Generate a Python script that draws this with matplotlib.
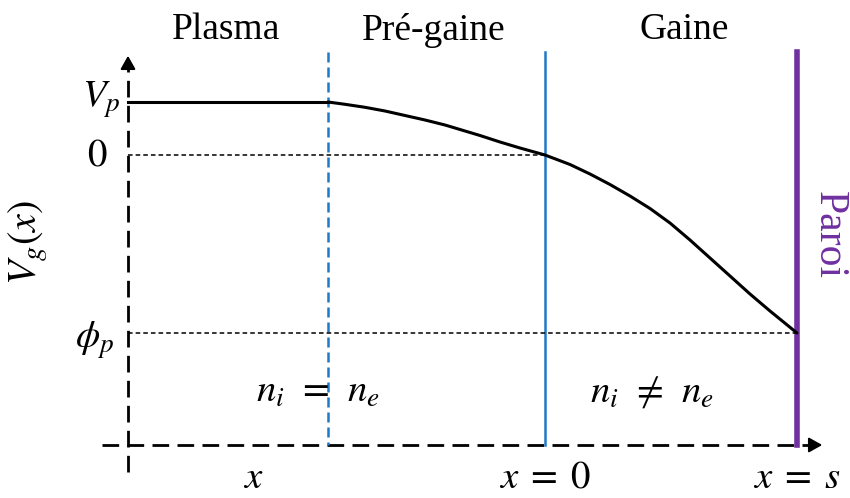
import matplotlib.pyplot as plt
import numpy as np

plt.rcParams['mathtext.fontset'] = 'stix'
plt.rcParams['font.family'] = ['Liberation Serif', 'DejaVu Serif']

# schematic coordinates (pixel-like units, y grows downwards)
x_axis = 128
y_axis = 445
y_top = 52
x_presheath = 328
x_sheath = 545
x_wall = 797

y_vp = 102
y_zero = 155
y_phi = 333

# potential profile
curve_x = [328, 345, 365, 385, 405, 425, 445, 460, 480, 500, 520, 545,
           570, 590, 610, 630, 650, 670, 690, 710, 730, 750, 770, 797]
curve_y = [102, 104.3, 107.3, 111, 115.5, 120, 125, 129.5, 135.5, 142, 148, 155,
           164.5, 174, 184.5, 196, 208.5, 223, 240, 258, 276, 294, 311, 333]

region_names = ['Plasma', 'Pré-gaine', 'Gaine']
region_x = [226, 434, 684]

blue = '#1f78c8'
purple = '#7030a0'

fig = plt.figure(figsize=(8.5, 4.98), dpi=100)
ax = fig.add_axes([0, 0, 1, 1])
ax.set_xlim(0, 850)
ax.set_ylim(498, 0)
ax.axis('off')

# axes (dashed, with arrows)
ax.plot([x_axis, x_axis], [472, 64], color='black', lw=2.0, dashes=(6, 3))
ax.plot([102, 812], [y_axis, y_axis], color='black', lw=2.0, dashes=(6, 3))
head = '-|>,head_length=0.8,head_width=0.45'
ax.annotate('', xy=(x_axis, 53), xytext=(x_axis, 68),
            arrowprops=dict(arrowstyle=head, color='black', lw=1.5))
ax.annotate('', xy=(825, y_axis), xytext=(808, y_axis),
            arrowprops=dict(arrowstyle=head, color='black', lw=1.5))

# region boundaries
ax.plot([x_presheath, x_presheath], [y_top, y_axis], color=blue, lw=1.8, dashes=(4, 2))
ax.plot([x_sheath, x_sheath], [y_top, y_axis], color=blue, lw=1.8)
ax.plot([x_wall, x_wall], [y_top, y_axis], color=purple, lw=4)

# reference levels
ax.plot([x_axis, x_sheath], [y_zero, y_zero], color='black', lw=1.1, dashes=(3, 2))
ax.plot([x_axis, x_wall], [y_phi, y_phi], color='black', lw=1.1, dashes=(3, 2))

# potential
ax.plot([x_axis, x_presheath], [y_vp, y_vp], color='black', lw=2.2)
ax.plot(curve_x, curve_y, color='black', lw=2.2, solid_capstyle='round',
        solid_joinstyle='round')

# texts
for name, xc in zip(region_names, region_x):
    ax.text(xc, 30, name, fontsize=27, ha='center', va='center')

ax.text(829, 235, 'Paroi', fontsize=30, color=purple, rotation=-90,
        ha='center', va='center')

ax.text(101, 100, r'$V_p$', fontsize=28, ha='center', va='center')
ax.text(97, 156, r'$0$', fontsize=28, ha='center', va='center')
ax.text(95, 340, r'$\phi_p$', fontsize=28, ha='center', va='center')
ax.text(28, 242, r'$V_g(x)$', fontsize=29, rotation=90, ha='center', va='center')

ax.text(318, 392, r'$n_i\;\,=\;\,n_e$', fontsize=28, ha='center', va='center')
ax.text(652, 392, r'$n_i\;\,\neq\;\,n_e$', fontsize=28, ha='center', va='center')

ax.text(253, 478, r'$x$', fontsize=28, ha='center', va='center')
ax.text(545, 478, r'$x\;=\;0$', fontsize=28, ha='center', va='center')
ax.text(797, 478, r'$x\;=\;s$', fontsize=28, ha='center', va='center')

fig.savefig('out.png', dpi=100)
